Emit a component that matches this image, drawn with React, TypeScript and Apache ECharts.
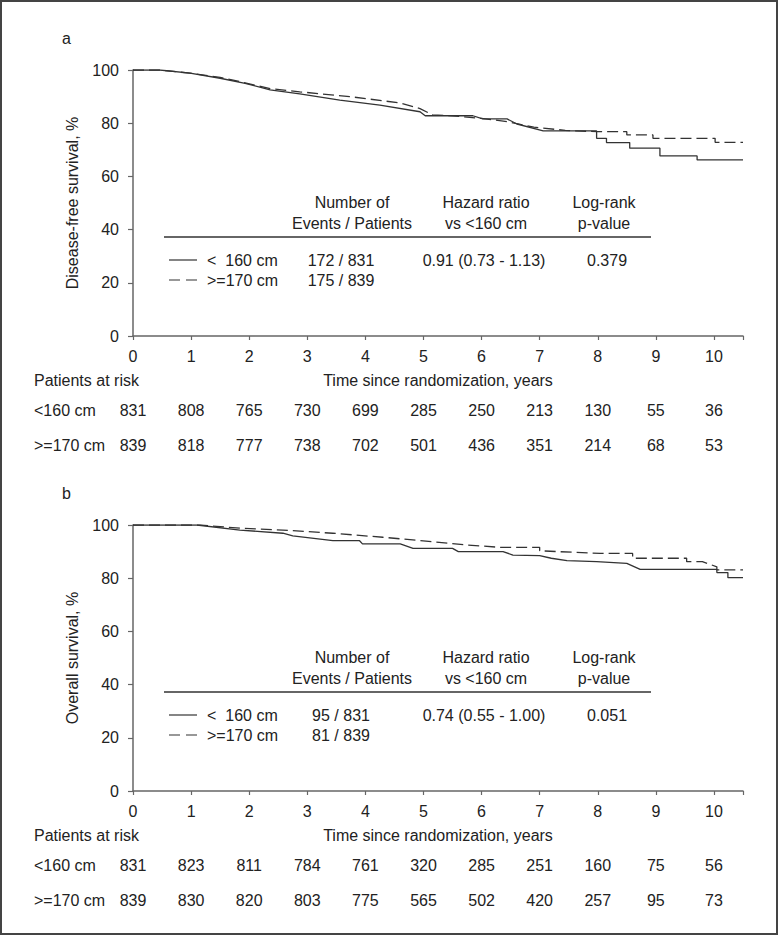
import React, { useEffect, useRef } from "react";
import * as echarts from "echarts";

// ---------- data ----------
const YEARS = [0, 1, 2, 3, 4, 5, 6, 7, 8, 9, 10];

// Patients at risk
const riskDfsLt160 = [831, 808, 765, 730, 699, 285, 250, 213, 130, 55, 36];
const riskDfsGe170 = [839, 818, 777, 738, 702, 501, 436, 351, 214, 68, 53];
const riskOsLt160 = [831, 823, 811, 784, 761, 320, 285, 251, 160, 75, 56];
const riskOsGe170 = [839, 830, 820, 803, 775, 565, 502, 420, 257, 95, 73];

// Disease-free survival curves [years, %]
const dfsLt160: [number, number][] = [
  [0, 100], [0.46, 100], [0.98, 98.8], [1.5, 96.9], [1.93, 95.0], [2.36, 92.5],
  [2.87, 91.0], [3.56, 88.7], [4.25, 86.8], [4.94, 84.3], [5.03, 82.8], [5.85, 82.8],
  [6.02, 81.6], [6.44, 81.6], [6.61, 79.7], [7.06, 77.1], [7.98, 77.1], [7.98, 74.3],
  [8.15, 74.3], [8.15, 72.7], [8.55, 72.7], [8.55, 70.6], [9.07, 70.6], [9.07, 67.7],
  [9.71, 67.7], [9.71, 66.2], [10.5, 66.2],
];
const dfsGe170: [number, number][] = [
  [0, 100], [0.46, 100], [0.98, 98.8], [1.5, 97.2], [1.93, 95.2], [2.36, 93.0],
  [2.87, 91.8], [3.73, 90.0], [4.6, 87.6], [4.94, 85.5], [5.16, 83.1], [5.5, 82.8],
  [6.0, 81.8], [6.44, 80.6], [6.9, 78.5], [7.44, 77.3], [8.0, 76.8], [8.5, 76.8],
  [8.5, 75.6], [8.95, 75.6], [8.95, 74.3], [10.02, 74.3], [10.02, 72.8], [10.5, 72.8],
];

// Overall survival curves [years, %]
const osLt160: [number, number][] = [
  [0, 100], [1.1, 100], [1.84, 98.1], [2.58, 96.9], [2.75, 95.9], [3.44, 94.1],
  [3.9, 94.1], [3.95, 92.9], [4.6, 92.9], [4.82, 91.2], [5.5, 91.2], [5.6, 90.0],
  [6.37, 90.0], [6.54, 88.7], [7.0, 88.5], [7.2, 87.5], [7.47, 86.6], [7.98, 86.2],
  [8.5, 85.6], [8.73, 83.3], [10.05, 83.3], [10.05, 82.1], [10.24, 82.1], [10.24, 80.2],
  [10.5, 80.2],
];
const osGe170: [number, number][] = [
  [0, 100], [1.15, 100], [1.84, 98.8], [2.58, 98.1], [3.44, 96.9], [4.3, 95.4],
  [5.16, 93.7], [5.75, 92.5], [6.32, 91.6], [7.0, 91.6], [7.0, 90.3], [8.04, 89.3],
  [8.6, 89.3], [8.6, 87.5], [9.53, 87.5], [9.53, 86.2], [9.8, 86.2], [10.05, 84.3],
  [10.05, 83.1], [10.5, 83.1],
];

const tableA = {
  lt160: ["172 / 831", "0.91 (0.73 - 1.13)", "0.379"],
  ge170: ["175 / 839"],
};
const tableB = {
  lt160: ["95 / 831", "0.74 (0.55 - 1.00)", "0.051"],
  ge170: ["81 / 839"],
};

// ---------- styling ----------
const FONT = "'Liberation Sans', Arial, Helvetica, sans-serif";
const TXT = "#222";
const AX = "#666";
const FS = 16;
const PANEL_DY = 455;
const GRID_TOP = 70;
const GRID_LEFT = 133;
const GRID_W = 610;
const GRID_H = 266;

function intLabel(arr: number[] | null) {
  return (v: number) => {
    if (Math.abs(v - Math.round(v)) > 1e-6) return "";
    const i = Math.round(v);
    if (i < 0 || i >= YEARS.length) return "";
    return arr ? String(arr[i]) : String(YEARS[i]);
  };
}

function buildAxes(gridIndex: number, riskA: number[], riskB: number[]) {
  const base = {
    gridIndex,
    type: "value" as const,
    min: 0,
    max: 10.5,
    interval: 1,
    position: "bottom" as const,
    splitLine: { show: false },
  };
  return [
    {
      ...base,
      axisLine: { show: true, onZero: false, lineStyle: { color: AX, width: 1.5 } },
      axisTick: { show: true, length: 4, lineStyle: { color: AX, width: 1.2 } },
      axisLabel: { formatter: intLabel(null), color: TXT, fontSize: FS, fontFamily: FONT, margin: 12, showMaxLabel: true },
      name: "Time since randomization, years",
      nameLocation: "middle",
      nameGap: 36,
      nameTextStyle: { color: TXT, fontSize: FS, fontFamily: FONT },
    },
    {
      ...base,
      offset: 54,
      axisLine: { show: false, onZero: false },
      axisTick: { show: false },
      axisLabel: { formatter: intLabel(riskA), color: TXT, fontSize: FS, fontFamily: FONT, margin: 12 },
    },
    {
      ...base,
      offset: 89,
      axisLine: { show: false, onZero: false },
      axisTick: { show: false },
      axisLabel: { formatter: intLabel(riskB), color: TXT, fontSize: FS, fontFamily: FONT, margin: 12 },
    },
  ];
}

function yAxis(gridIndex: number, name: string) {
  return {
    gridIndex,
    type: "value" as const,
    min: 0,
    max: 100,
    interval: 20,
    splitLine: { show: false },
    axisLine: { show: true, lineStyle: { color: AX, width: 1.5 } },
    axisTick: { show: true, length: 5, lineStyle: { color: AX, width: 1.2 } },
    axisLabel: { color: TXT, fontSize: FS, fontFamily: FONT, margin: 14 },
    name,
    nameLocation: "middle",
    nameRotate: 90,
    nameGap: 53,
    nameTextStyle: { color: TXT, fontSize: FS, fontFamily: FONT },
  };
}

function text(x: number, y: number, t: string, align: string = "left") {
  return {
    type: "text",
    x,
    y,
    style: { text: t, fill: TXT, font: `${FS}px ${FONT}`, textAlign: align, textVerticalAlign: "middle" },
    silent: true,
  };
}

function panelGraphics(dy: number, letter: string, tbl: { lt160: string[]; ge170: string[] }) {
  const els: any[] = [];
  els.push(text(62, 38 + dy, letter));
  // legend table
  els.push(text(352, 202 + dy, "Number of", "center"));
  els.push(text(352, 223 + dy, "Events / Patients", "center"));
  els.push(text(486, 202 + dy, "Hazard ratio", "center"));
  els.push(text(486, 223 + dy, "vs <160 cm", "center"));
  els.push(text(604, 202 + dy, "Log-rank", "center"));
  els.push(text(604, 223 + dy, "p-value", "center"));
  els.push({
    type: "line",
    shape: { x1: 164, y1: 237 + dy, x2: 651, y2: 237 + dy },
    style: { stroke: "#333", lineWidth: 1.5 },
    silent: true,
  });
  els.push({
    type: "line",
    shape: { x1: 169, y1: 260 + dy, x2: 197, y2: 260 + dy },
    style: { stroke: "#333", lineWidth: 1.2 },
    silent: true,
  });
  els.push({
    type: "line",
    shape: { x1: 169, y1: 280 + dy, x2: 197, y2: 280 + dy },
    style: { stroke: "#333", lineWidth: 1.2, lineDash: [11, 6] },
    silent: true,
  });
  els.push(text(207, 260 + dy, "<\u00a0\u00a0160 cm"));
  els.push(text(207, 280 + dy, ">=170 cm"));
  els.push(text(341, 260 + dy, tbl.lt160[0], "center"));
  els.push(text(341, 280 + dy, tbl.ge170[0], "center"));
  els.push(text(484, 260 + dy, tbl.lt160[1], "center"));
  els.push(text(607, 260 + dy, tbl.lt160[2], "center"));
  // risk table row titles
  els.push(text(34, 380 + dy, "Patients at risk"));
  els.push(text(34, 410 + dy, "<160 cm"));
  els.push(text(34, 445 + dy, ">=170 cm"));
  return els;
}

function lineSeries(data: [number, number][], xi: number, yi: number, dashed: boolean) {
  return {
    type: "line",
    xAxisIndex: xi,
    yAxisIndex: yi,
    data,
    showSymbol: false,
    symbol: "none",
    silent: true,
    lineStyle: { color: "#333", width: 1.3, type: dashed ? [11, 5] : "solid" },
  };
}

export default function App() {
  const ref = useRef<HTMLDivElement>(null);
  useEffect(() => {
    if (!ref.current) return;
    const chart = echarts.init(ref.current, undefined, { renderer: "svg" });
    const option: any = {
      animation: false,
      backgroundColor: "#fff",
      textStyle: { fontFamily: FONT },
      grid: [
        { left: GRID_LEFT, top: GRID_TOP, width: GRID_W, height: GRID_H },
        { left: GRID_LEFT, top: GRID_TOP + PANEL_DY, width: GRID_W, height: GRID_H },
      ],
      xAxis: [...buildAxes(0, riskDfsLt160, riskDfsGe170), ...buildAxes(1, riskOsLt160, riskOsGe170)],
      yAxis: [yAxis(0, "Disease-free survival, %"), yAxis(1, "Overall survival, %")],
      series: [
        lineSeries(dfsLt160, 0, 0, false),
        lineSeries(dfsGe170, 0, 0, true),
        lineSeries(osLt160, 3, 1, false),
        lineSeries(osGe170, 3, 1, true),
      ],
      graphic: [
        {
          type: "rect",
          shape: { x: 1, y: 1, width: 776, height: 933 },
          style: { fill: "none", stroke: "#444", lineWidth: 2 },
          silent: true,
        },
        ...panelGraphics(0, "a", tableA),
        ...panelGraphics(PANEL_DY, "b", tableB),
      ],
    };
    chart.setOption(option);
    return () => chart.dispose();
  }, []);
  return (
    <div
      ref={ref}
      style={{ position: "absolute", left: 0, top: 0, width: 779, height: 936, background: "#fff" }}
    />
  );
}
